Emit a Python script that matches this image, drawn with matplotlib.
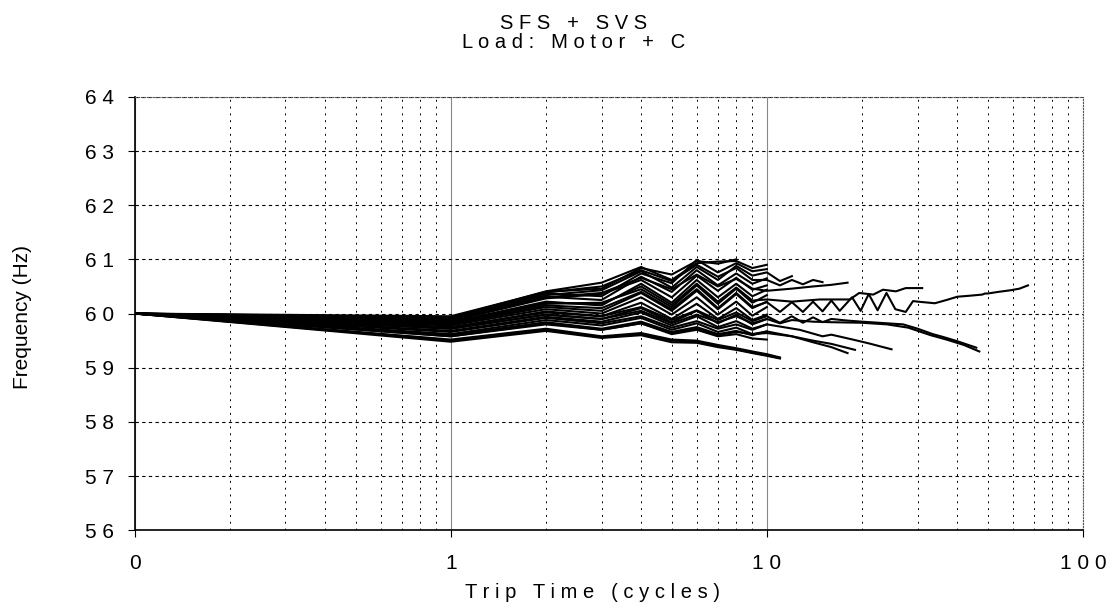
import matplotlib.pyplot as plt
from matplotlib.ticker import FixedLocator, FixedFormatter, LogLocator, NullFormatter

plt.rcParams['font.family'] = ['Liberation Sans', 'DejaVu Sans']

# trip time samples (cycles); 0.1 is shown as "0" on the chart
cycles = [0.1, 1, 2, 3, 4, 5, 6, 7, 8, 9, 10, 11, 12]

# runs that stop at or before 12 cycles, frequency (Hz) at each cycle
short_runs = [
    [60.00, 59.95, 60.40, 60.46, 60.84, 60.72, 60.97, 60.92, 61.00],
    [60.00, 59.93, 60.41, 60.57, 60.86, 60.62, 60.93, 60.96, 60.97, 60.84, 60.90],
    [60.00, 59.92, 60.37, 60.32, 60.74, 60.56, 60.99, 60.76, 60.93, 60.78, 60.82],
    [60.00, 59.90, 60.34, 60.43, 60.78, 60.48, 60.86, 60.62, 60.88, 60.70, 60.76, 60.60, 60.69],
    [60.00, 59.88, 60.31, 60.25, 60.68, 60.40, 60.80, 60.52, 60.74, 60.55, 60.65],
    [60.00, 59.86, 60.28, 60.36, 60.62, 60.30, 60.70, 60.42, 60.66, 60.44, 60.52],
    [60.00, 59.84, 60.22, 60.15, 60.55, 60.20, 60.62, 60.30, 60.55, 60.32, 60.44],
    [60.00, 59.82, 60.18, 60.20, 60.45, 60.12, 60.52, 60.18, 60.46, 60.20, 60.34],
    [60.00, 59.80, 60.12, 60.05, 60.38, 60.05, 60.42, 60.08, 60.36, 60.10, 60.22],
    [60.00, 59.78, 60.08, 60.00, 60.30, 59.98, 60.30, 59.98, 60.22, 59.96, 60.12],
    [60.00, 59.75, 60.02, 59.95, 60.20, 59.90, 60.18, 59.90, 60.10, 59.88, 59.98],
    [60.00, 59.72, 59.98, 59.90, 60.10, 59.84, 60.05, 59.82, 59.98, 59.80, 59.90],
    [60.00, 59.68, 59.94, 59.85, 60.02, 59.78, 59.95, 59.75, 59.86, 59.72, 59.80],
    [60.00, 59.62, 59.88, 59.78, 59.92, 59.70, 59.82, 59.66, 59.74, 59.62, 59.67],
    [60.00, 59.58, 59.80, 59.70, 59.82, 59.62, 59.70, 59.58, 59.62, 59.54, 59.52],
    [60.00, 59.52, 59.72, 59.58, 59.64, 59.52, 59.50, 59.42, 59.36, 59.30, 59.25, 59.19],
    [60.00, 59.50, 59.70, 59.56, 59.62, 59.50, 59.48, 59.40, 59.34, 59.28, 59.23, 59.18],
    [60.00, 59.48, 59.68, 59.55, 59.60, 59.47, 59.46, 59.38, 59.33, 59.27, 59.22, 59.17],
]

# longer runs: values at cycles 0.1..10, then their own tail
long_heads = [
    [60.00, 59.91, 60.39, 60.50, 60.80, 60.60, 60.90, 60.68, 60.84, 60.62, 60.62],
    [60.00, 59.87, 60.30, 60.38, 60.66, 60.45, 60.72, 60.50, 60.64, 60.46, 60.42],
    [60.00, 59.83, 60.20, 60.18, 60.50, 60.16, 60.55, 60.22, 60.48, 60.24, 60.26],
    [60.00, 59.80, 60.15, 60.10, 60.40, 60.08, 60.45, 60.10, 60.38, 60.12, 60.21],
    [60.00, 59.74, 60.04, 59.95, 60.12, 59.88, 60.06, 59.88, 60.02, 59.86, 59.95],
    [60.00, 59.72, 59.98, 59.90, 60.05, 59.82, 59.98, 59.84, 59.95, 59.82, 59.90],
    [60.00, 59.66, 59.92, 59.82, 59.95, 59.74, 59.86, 59.72, 59.80, 59.70, 59.80],
    [60.00, 59.60, 59.84, 59.72, 59.85, 59.66, 59.75, 59.62, 59.68, 59.60, 59.67],
    [60.00, 59.58, 59.82, 59.70, 59.82, 59.64, 59.72, 59.60, 59.66, 59.62, 59.64],
]
long_tail_t = [
    [11, 12, 13, 14, 15],
    [12, 14, 16, 18],
    [12, 14.7, 18.3, 19.6, 21.7, 23.3, 25.6, 27.5, 31],
    [11, 12, 13, 14, 15, 16, 17, 18.6, 19.8, 21, 22.4, 23.9, 25.5, 27.5, 29,
     30, 34, 37, 40, 44, 48, 49, 50, 54, 59, 63, 67],
    [11, 12, 13, 14, 15, 16, 18, 20, 24, 27, 30, 33.5, 36, 40, 46],
    [11, 12, 14, 16, 20, 24, 28, 33, 37, 42, 47],
    [12.7, 15, 16, 18.7, 21, 24.8],
    [12, 14, 16, 18],
    [12, 14, 16, 19],
]
long_tail_f = [
    [60.52, 60.62, 60.54, 60.62, 60.58],
    [60.46, 60.50, 60.53, 60.57],
    [60.22, 60.26, 60.26, 60.38, 60.35, 60.44, 60.41, 60.47, 60.47],
    [60.03, 60.21, 60.03, 60.22, 60.04, 60.24, 60.05, 60.30, 60.05, 60.36, 60.06, 60.38, 60.08, 60.03, 60.23,
     60.22, 60.19, 60.25, 60.31, 60.33, 60.35, 60.37, 60.37, 60.40, 60.43, 60.46, 60.52],
    [59.83, 59.95, 59.83, 59.93, 59.84, 59.90, 59.87, 59.85, 59.82, 59.80, 59.72, 59.62, 59.57, 59.49, 59.37],
    [59.82, 59.88, 59.85, 59.84, 59.83, 59.80, 59.74, 59.60, 59.52, 59.42, 59.30],
    [59.70, 59.58, 59.61, 59.52, 59.45, 59.34],
    [59.58, 59.47, 59.38, 59.27],
    [59.58, 59.50, 59.44, 59.33],
]

y_ticks = [56, 57, 58, 59, 60, 61, 62, 63, 64]
y_labels = ["5 6", "5 7", "5 8", "5 9", "6 0", "6 1", "6 2", "6 3", "6 4"]
x_ticks = [0.1, 1, 10, 100]
x_labels = ["0", "1", "1 0", "1 0 0"]

fig = plt.figure(figsize=(11.13, 6.13), dpi=100)
ax = fig.add_axes([0.121, 0.135, 0.852, 0.707])

for f in short_runs:
    ax.plot(cycles[:len(f)], f, color='black', lw=1.5)
for head, tt, tf in zip(long_heads, long_tail_t, long_tail_f):
    ax.plot(cycles[:len(head)] + tt, head + tf, color='black', lw=1.5)

ax.set_xscale('log')
ax.set_xlim(0.1, 100)
ax.set_ylim(56, 64)

ax.xaxis.set_major_locator(FixedLocator(x_ticks))
ax.xaxis.set_major_formatter(FixedFormatter(x_labels))
ax.xaxis.set_minor_locator(LogLocator(base=10, subs=[2, 3, 4, 5, 6, 7, 8, 9]))
ax.xaxis.set_minor_formatter(NullFormatter())
ax.yaxis.set_major_locator(FixedLocator(y_ticks))
ax.yaxis.set_major_formatter(FixedFormatter(y_labels))

ax.grid(True, which='major', axis='x', color='#888888', lw=0.8, ls='-')
ax.grid(True, which='minor', axis='x', color='black', lw=0.7, ls=(0, (2, 5)))
ax.grid(True, which='major', axis='y', color='black', lw=0.8, ls=(0, (3, 3)))
ax.set_axisbelow(True)

ax.tick_params(axis='both', which='major', labelsize=15, length=5, color='black')
ax.tick_params(axis='y', pad=10)
ax.tick_params(axis='x', pad=12)
ax.tick_params(axis='x', which='minor', length=0)

ax.spines['left'].set_linewidth(1.2)
ax.spines['bottom'].set_linewidth(1.2)
for s in ['top', 'right']:
    ax.spines[s].set_linestyle(':')
    ax.spines[s].set_color('#555555')

fig.text(0.532, 0.034, "T r i p   T i m e   ( c y c l e s )", ha='center', va='center', fontsize=14.5)
fig.text(0.02, 0.483, "Frequency (Hz)", rotation=90, ha='center', va='center', fontsize=15)

fig.text(0.515, 0.962, "S F S   +   S V S", ha='center', va='center', fontsize=14.5)
fig.text(0.515, 0.93, "L o a d :   M o t o r   +   C", ha='center', va='center', fontsize=14.5)

fig.savefig('out.png', dpi=100)
